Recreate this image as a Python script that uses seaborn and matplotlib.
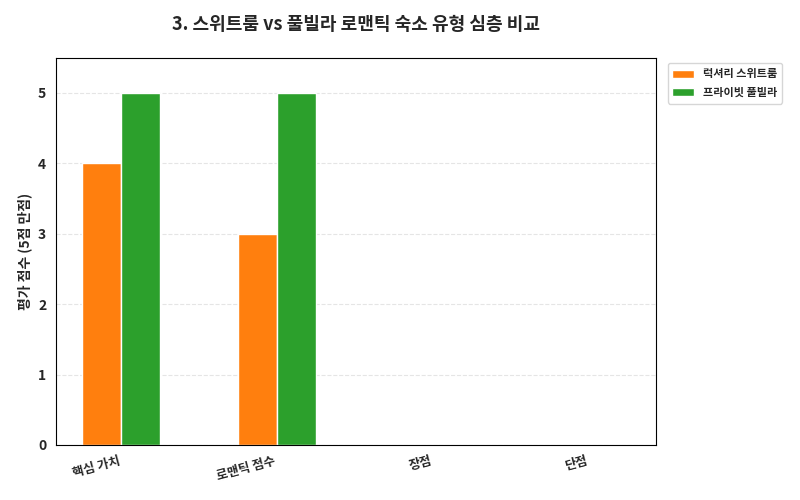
import matplotlib
matplotlib.use("Agg")
import matplotlib.pyplot as plt
import seaborn as sns
import pandas as pd

categories = ["핵심 가치", "로맨틱 점수", "장점", "단점"]
series_names = ["럭셔리 스위트룸", "프라이빗 풀빌라"]
suite_vals = [4, 3, 0, 0]
villa_vals = [5, 5, 0, 0]

sns.set_style("white")
plt.rcParams['font.family'] = ['Noto Sans CJK KR', 'DejaVu Sans']

df = pd.DataFrame({
    "cat": categories * 2,
    "series": [series_names[0]] * 4 + [series_names[1]] * 4,
    "val": suite_vals + villa_vals,
})

fig, ax = plt.subplots(figsize=(8, 5), dpi=100)
sns.barplot(data=df, x="cat", y="val", hue="series", ax=ax, width=0.5,
            palette=["#ff7f0e", "#2ca02c"], saturation=1)
ax.set_ylim(0, 5.5)
ax.set_xlim(-0.42, 3.43)
ax.yaxis.grid(True, linestyle="--", alpha=0.5)
ax.set_axisbelow(True)
for s in ax.spines.values():
    s.set_visible(True)
    s.set_color("black")
ax.set_xlabel("")
ax.set_ylabel("평가 점수 (5점 만점)", fontweight="bold", fontsize=10)
ax.set_title("3. 스위트룸 vs 풀빌라 로맨틱 숙소 유형 심층 비교", fontweight="bold", fontsize=13, pad=20)
plt.setp(ax.get_xticklabels(), rotation=15, ha="right", fontweight="bold", fontsize=9)
plt.setp(ax.get_yticklabels(), fontweight="bold", fontsize=10)
leg = ax.legend(loc="upper left", bbox_to_anchor=(1.01, 1.0), fontsize=8, prop={"weight": "bold", "size": 8})
fig.subplots_adjust(left=0.07, right=0.82, top=0.885, bottom=0.11)
fig.savefig("out.png")
